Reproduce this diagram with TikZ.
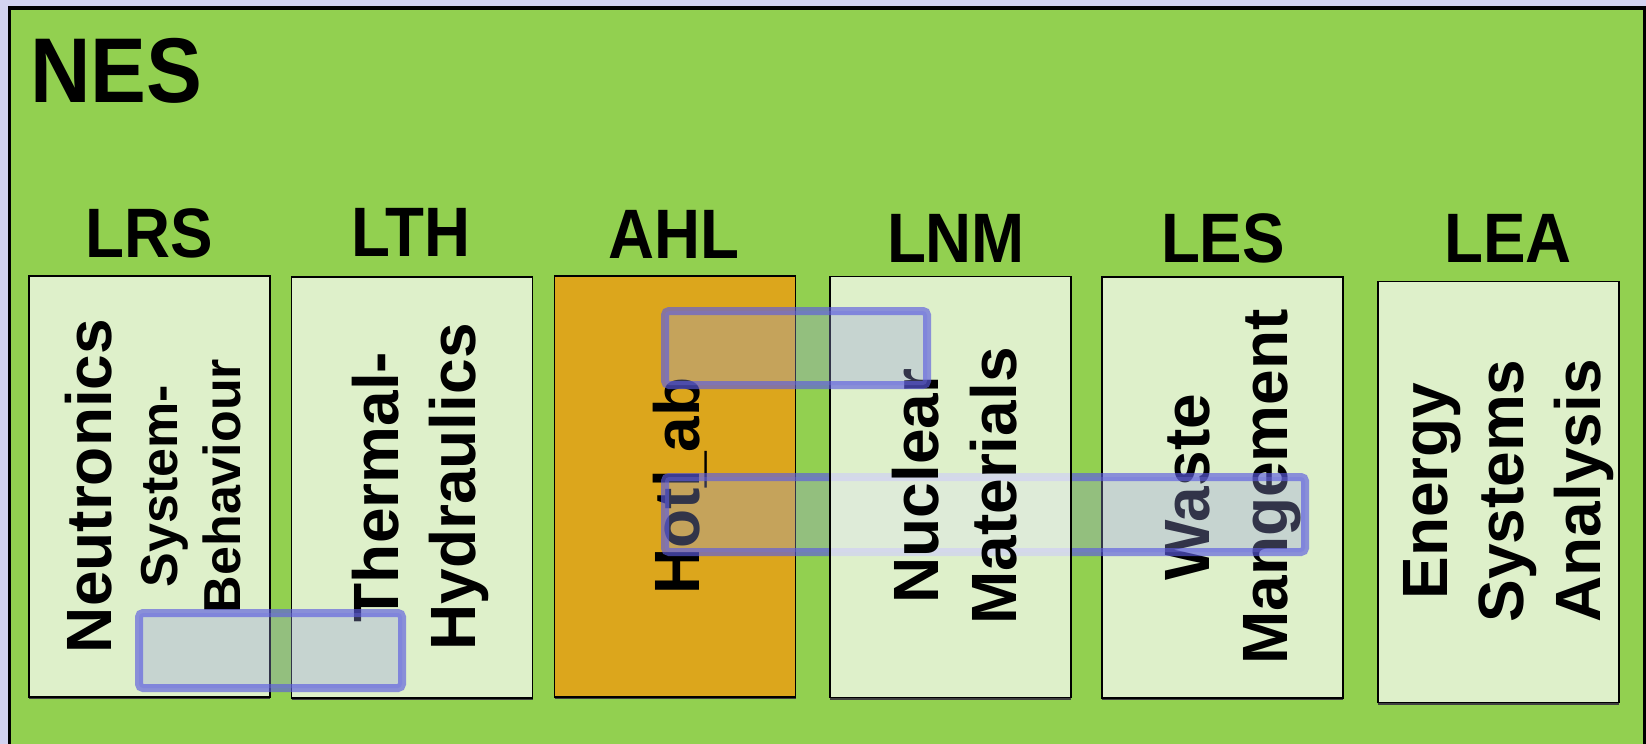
\documentclass[tikz,border=0pt]{standalone}
\usepackage{fontspec}
\setmainfont{Liberation Sans}
\newfontfamily\narrowsans[FakeStretch=0.91]{Liberation Sans}
\definecolor{pagebg}{RGB}{211,211,240}
\definecolor{nesgreen}{RGB}{146,208,80}
\definecolor{hotlab}{RGB}{220,166,28}
\definecolor{linkfill}{RGB}{152,158,222}
\definecolor{linkline}{RGB}{92,91,225}
\begin{document}
\begin{tikzpicture}[x=1pt,y=-1pt,
  every node/.style={inner sep=0pt, outer sep=0pt},
  unitbox/.style={draw=black, line width=1.6pt, fill=white, fill opacity=0.7,
    minimum width=241, minimum height=421},
  hotbox/.style={unitbox, fill=hotlab, fill opacity=1},
  boxshade/.style={draw=black!75, line width=1.6pt},
  grp/.style={anchor=base, font=\narrowsans\fontsize{70}{84}\selectfont\bfseries},
  vlab/.style={rotate=90, anchor=base, font=\fontsize{64}{77}\selectfont\bfseries},
  vsmall/.style={vlab, font=\fontsize{52}{62}\selectfont\bfseries},
  linkbox/.style={draw=linkline, draw opacity=0.65, line width=8pt,
    fill=linkfill, fill opacity=0.33, rounded corners=4pt}]
\useasboundingbox (0,0) rectangle (1646,744);
\begin{scope}
\clip (0,0) rectangle (1646,744);
% page and the NES frame
\fill[pagebg] (0,0) rectangle (1646,744);
\draw[fill=nesgreen, line width=3.5pt] (9.5,8) rectangle (1644.5,780);
\end{scope}

\node[anchor=base west, font=\narrowsans\fontsize{92}{110}\selectfont\bfseries] (nes) at (30,102) {NES};

% group titles
\node[grp] (tlrs) at (149,257) {LRS};
\node[grp] (tlth) at (411,256.5) {LTH};
\node[grp] (tahl) at (674,258) {AHL};
\node[grp] (tlnm) at (956,262) {LNM};
\node[grp] (tles) at (1223,262.5) {LES};
\node[grp] (tlea) at (1508,262.5) {LEA};

% group boxes
\node[unitbox] (lrs) at (149.5,486.5) {};
\node[vlab]   (lrs1) at (111,486) {Neutronics};
\node[vsmall] (lrs2) at (177,486) {System-};
\node[vsmall] (lrs3) at (240,486) {Behaviour};

\node[unitbox] (lth) at (412,487.5) {};
\node[vlab] (lth1) at (398,487) {Thermal-};
\node[vlab] (lth2) at (475,487) {Hydraulics};

\node[hotbox] (ahl) at (675,486.5) {};
\node[vlab] (ahl1) at (699,486) {Hot\rlap{l}\_ab};

\node[unitbox] (les) at (1222.5,487.5) {};
\node[vlab] (les1) at (1209,487) {Waste};
\node[vlab] (les2) at (1287,487) {Mangement};

\node[unitbox] (lea) at (1498.5,492) {};
\node[vlab] (lea1) at (1447,491) {Energy};
\node[vlab] (lea2) at (1523,491) {Systems};
\node[vlab] (lea3) at (1600,491) {Analysis};

% shading under the bottom edges
\foreach \b in {lrs,lth,ahl,les,lea}
  \draw[boxshade] ([yshift=-1.6pt]\b.south west) -- ([yshift=-1.6pt]\b.south east);

% links between groups
\node[linkbox, minimum width=263, minimum height=75] (lk1) at (270.5,650.5) {};
\node[linkbox, minimum width=640, minimum height=75] (lk3) at (985,514.5) {};

\node[unitbox] (lnm) at (950.5,487) {};
\draw[boxshade] ([yshift=-1.6pt]lnm.south west) -- ([yshift=-1.6pt]lnm.south east);
\node[vlab] (lnm1) at (938,486) {Nuclear};
\node[vlab] (lnm2) at (1016,486) {Materials};

\node[linkbox, minimum width=262, minimum height=74] (lk2) at (796,348) {};
\end{tikzpicture}
\end{document}
